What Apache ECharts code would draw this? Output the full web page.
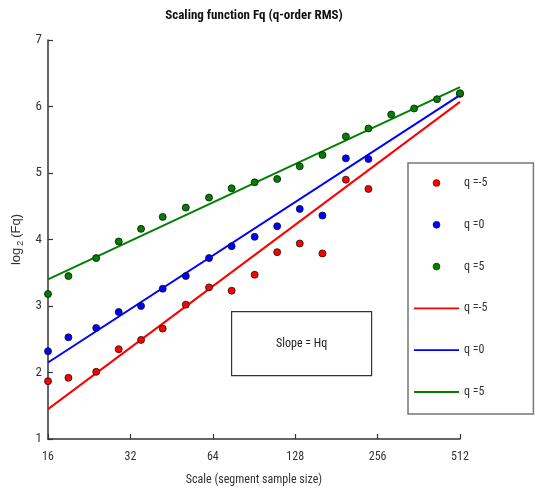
<!DOCTYPE html>
<html>
<head>
<meta charset="utf-8">
<script src="https://cdn.jsdelivr.net/npm/echarts@6/dist/echarts.min.js"></script>
<style>
  html, body { margin: 0; padding: 0; background: #fff; }
  #chart { width: 535px; height: 491px; }
</style>
</head>
<body>
<div id="chart"></div>
<script>
// Segment sizes (samples) on a log2 axis
const scales = [16, 19, 24, 29, 35, 42, 51, 62, 75, 91, 110, 133, 161, 196, 237, 287, 348, 422, 512];

// log2(Fq) for each q order
const fqNeg5 = [1.87, 1.92, 2.01, 2.35, 2.49, 2.66, 3.02, 3.28, 3.23, 3.47, 3.81, 3.94, 3.79, 4.90, 4.76, null, null, null, null];
const fqZero = [2.32, 2.53, 2.67, 2.91, 3.00, 3.26, 3.45, 3.72, 3.90, 4.04, 4.20, 4.46, 4.36, 5.22, 5.21, null, null, null, 6.19];
const fqPos5 = [3.18, 3.45, 3.72, 3.97, 4.16, 4.34, 4.48, 4.63, 4.77, 4.86, 4.91, 5.10, 5.27, 5.55, 5.67, 5.88, 5.97, 6.11, 6.20];

// Regression lines evaluated at the ends of the scale range
const fitScales = [16, 512];
const fitNeg5 = [1.45, 6.07];
const fitZero = [2.15, 6.17];
const fitPos5 = [3.40, 6.29];

const yTicks = [1, 2, 3, 4, 5, 6, 7];
const xTicks = [16, 32, 64, 128, 256, 512];

const RED = '#ff0000', BLUE = '#0000ff', GREEN = '#008000';
const FONT = "'Liberation Sans Narrow', 'Roboto Condensed', 'DejaVu Sans Condensed', sans-serif";

// thin horizontal bar used as the legend swatch of a fitted line
const LINE_ICON = 'path://M0,0H45V0.01H0Z M0,2.6H45V4.4H0Z M0,6.99H45V7H0Z';

function pairs(xs, ys) {
  return xs.map((x, i) => [x, ys[i]]).filter(p => p[1] !== null);
}

function pointSeries(name, values, color) {
  return {
    name: name + '|pts',
    type: 'scatter',
    symbol: 'circle',
    symbolSize: 7,
    z: 4,
    itemStyle: { color: color, borderColor: '#111', borderWidth: 0.8, opacity: 1 },
    data: pairs(scales, values)
  };
}

function fitSeries(name, values, color) {
  return {
    name: name + '|fit',
    type: 'line',
    symbol: 'none',
    z: 3,
    lineStyle: { color: color, width: 2 },
    itemStyle: { color: color },
    data: pairs(fitScales, values)
  };
}

const chart = echarts.init(document.getElementById('chart'), null, { renderer: 'canvas' });

chart.setOption({
  animation: false,
  backgroundColor: '#fff',
  title: {
    text: 'Scaling function Fq (q-order RMS)',
    left: 254,
    top: 9,
    textAlign: 'center',
    padding: 0,
    textStyle: { fontFamily: FONT, fontSize: 13, fontWeight: 'bold', color: '#111' }
  },
  grid: { left: 48, right: 75, top: 40, bottom: 51 },
  xAxis: {
    type: 'log',
    logBase: 2,
    min: xTicks[0],
    max: xTicks[xTicks.length - 1],
    name: 'Scale (segment sample size)',
    nameLocation: 'middle',
    nameGap: 35,
    nameTextStyle: { fontFamily: FONT, fontSize: 12, color: '#333' },
    axisLine: { lineStyle: { color: '#333', width: 1.5 } },
    axisTick: { inside: true, length: 5, lineStyle: { color: '#333', width: 1.2 } },
    axisLabel: { fontFamily: FONT, fontSize: 12, color: '#333', margin: 12 },
    splitLine: { show: false },
    minorTick: { show: false }
  },
  yAxis: {
    type: 'value',
    min: yTicks[0],
    max: yTicks[yTicks.length - 1],
    interval: 1,
    name: '{a|log}{s|2}{a|(Fq)}',
    nameLocation: 'middle',
    nameGap: 17,
    nameTextStyle: {
      fontFamily: FONT, fontSize: 13, color: '#333',
      rich: {
        a: { fontFamily: "'Liberation Sans', Arial, sans-serif", fontSize: 13, color: '#333', lineHeight: 16 },
        s: { fontFamily: "'Liberation Sans', Arial, sans-serif", fontSize: 9, color: '#333', lineHeight: 9, verticalAlign: 'bottom', padding: [0, 3, 0, 2] }
      }
    },
    axisLine: { show: true, lineStyle: { color: '#333', width: 1.5 } },
    axisTick: { show: true, inside: true, length: 5, lineStyle: { color: '#333', width: 1.2 } },
    axisLabel: { fontFamily: FONT, fontSize: 13, color: '#333', margin: 6 },
    splitLine: { show: false }
  },
  legend: {
    orient: 'vertical',
    left: 408,
    top: 163,
    padding: [13, 46, 15, 6],
    itemWidth: 45,
    itemHeight: 7,
    itemGap: 27.8,
    borderColor: '#777',
    borderWidth: 1.5,
    backgroundColor: '#fff',
    selectedMode: false,
    formatter: name => name.split('|')[0],
    textStyle: { fontFamily: FONT, fontSize: 12, color: '#333', lineHeight: 14 },
    data: [
      { name: 'q =-5|pts', icon: 'circle', itemStyle: { borderWidth: 0.5, borderColor: '#111' } },
      { name: 'q =0|pts', icon: 'circle', itemStyle: { borderWidth: 0.5, borderColor: '#111' } },
      { name: 'q =5|pts', icon: 'circle', itemStyle: { borderWidth: 0.5, borderColor: '#111' } },
      { name: 'q =-5|fit', icon: LINE_ICON, itemStyle: { borderWidth: 0 } },
      { name: 'q =0|fit', icon: LINE_ICON, itemStyle: { borderWidth: 0 } },
      { name: 'q =5|fit', icon: LINE_ICON, itemStyle: { borderWidth: 0 } }
    ]
  },
  graphic: [{
    type: 'group',
    left: 231,
    top: 311,
    children: [
      { type: 'rect', shape: { x: 0, y: 0, width: 140, height: 64 },
        style: { fill: '#fff', stroke: '#333', lineWidth: 1.2 } },
      { type: 'text', x: 70, y: 32,
        style: { text: 'Slope = Hq', fill: '#222', font: "12px " + FONT, align: 'center', verticalAlign: 'middle' } }
    ]
  }],
  series: [
    fitSeries('q =-5', fitNeg5, RED),
    fitSeries('q =0', fitZero, BLUE),
    fitSeries('q =5', fitPos5, GREEN),
    pointSeries('q =-5', fqNeg5, RED),
    pointSeries('q =0', fqZero, BLUE),
    pointSeries('q =5', fqPos5, GREEN)
  ]
});
</script>
</body>
</html>
